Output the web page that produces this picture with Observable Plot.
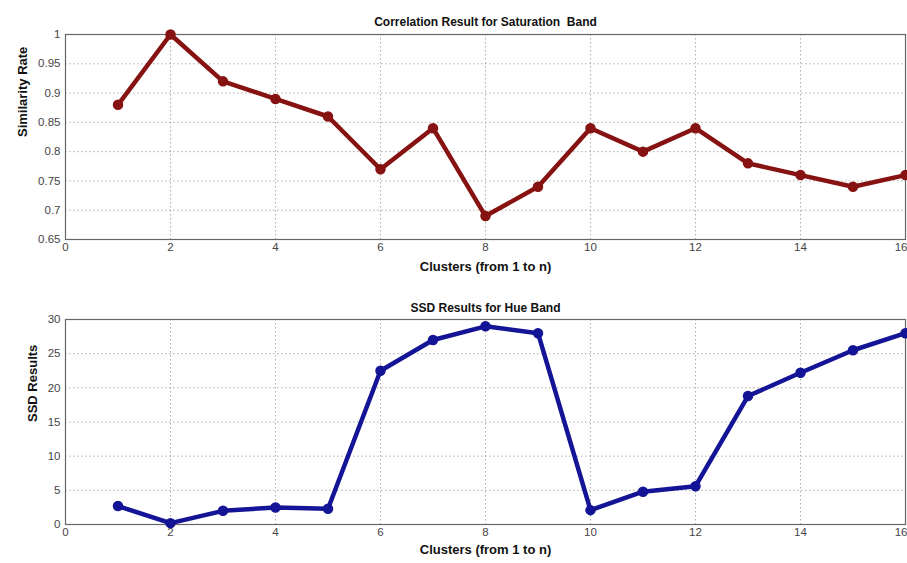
<!DOCTYPE html>
<html><head><meta charset="utf-8">
<script src="https://cdn.jsdelivr.net/npm/d3@7"></script>
<script src="https://cdn.jsdelivr.net/npm/@observablehq/plot@0.6"></script>
<style>body{margin:0;background:#fff;} #c svg{display:block;}</style>
</head><body><div id="c"></div>
<script>
const clusters = [1,2,3,4,5,6,7,8,9,10,11,12,13,14,15,16];
const correlation = [0.88,1.0,0.92,0.89,0.86,0.77,0.84,0.69,0.74,0.84,0.80,0.84,0.78,0.76,0.74,0.76];
const ssd = [2.7,0.2,2.0,2.5,2.3,22.5,27,29,28,2.1,4.8,5.6,18.8,22.2,25.5,28];
const xTicks = [0,2,4,6,8,10,12,14,16];
const yTicksTop = [0.65,0.7,0.75,0.8,0.85,0.9,0.95,1];
const yTicksBottom = [0,5,10,15,20,25,30];
const titleTop = "Correlation Result for Saturation  Band";
const titleBottom = "SSD Results for Hue Band";
const xLabel = "Clusters (from 1 to n)";
const yLabelTop = "Similarity Rate";
const yLabelBottom = "SSD Results";

function panel({values, color, yDomain, yTicks, title, ylabel, height, marginTop, marginBottom, titleDy, xlabDy, ylabDx}) {
  const data = clusters.map((c,i)=>({x:c, y:values[i]}));
  const lastTick = xTicks[xTicks.length-1];
  const innerTicks = xTicks.filter(t => t !== lastTick);
  return Plot.plot({
    width: 907, height, marginLeft: 65, marginRight: 2, marginTop, marginBottom,
    style: {fontFamily: "Liberation Sans, Arial, sans-serif", fontSize: "11px", color: "#333", background: "#fff"},
    x: {domain: [0,16], label: null, axis: null},
    y: {domain: yDomain, ticks: yTicks, tickFormat: d => String(d), label: null},
    marks: [
      Plot.gridX(xTicks, {stroke: "#999", strokeOpacity: 0.8, strokeDasharray: "1.5,2.5"}),
      Plot.gridY(yTicks, {stroke: "#999", strokeOpacity: 0.8, strokeDasharray: "1.5,2.5"}),
      Plot.text(innerTicks, {x: d => d, text: d => String(d), frameAnchor: "bottom", dy: 11, fill: "#444", fontSize: 11.5}),
      Plot.text([lastTick], {x: d => d, text: d => String(d), frameAnchor: "bottom", dy: 11, dx: 2, textAnchor: "end", fill: "#444", fontSize: 11.5}),
      Plot.axisY(yTicks, {tickSize: 0, tickPadding: 5, tickFormat: d => String(d), fill: "#444", fontSize: 11.5}),
      Plot.frame({stroke: "#666", strokeWidth: 1.2}),
      Plot.line(data, {x: "x", y: "y", stroke: color, strokeWidth: 4.5, strokeLinejoin: "round"}),
      Plot.dot(data, {x: "x", y: "y", r: 4.5, fill: color, stroke: color}),
      Plot.text([title], {text: d => d, frameAnchor: "top", dy: titleDy, fontWeight: "bold", fontSize: 12, fill: "#111"}),
      Plot.text([xLabel], {text: d => d, frameAnchor: "bottom", dy: xlabDy, fontWeight: "bold", fontSize: 13, fill: "#111"}),
      Plot.text([ylabel], {text: d => d, frameAnchor: "left", dx: ylabDx, rotate: -90, fontWeight: "bold", fontSize: 13, fill: "#111"})
    ]
  });
}

const c = document.getElementById("c");
c.append(panel({values: correlation, color: "#861212", yDomain: [0.65,1], yTicks: yTicksTop, title: titleTop, ylabel: yLabelTop,
  height: 280, marginTop: 34, marginBottom: 41, titleDy: -17, xlabDy: 31, ylabDx: -43}));
c.append(panel({values: ssd, color: "#141496", yDomain: [0,30], yTicks: yTicksBottom, title: titleBottom, ylabel: yLabelBottom,
  height: 283, marginTop: 39, marginBottom: 39, titleDy: -16, xlabDy: 29, ylabDx: -33}));
</script></body></html>
